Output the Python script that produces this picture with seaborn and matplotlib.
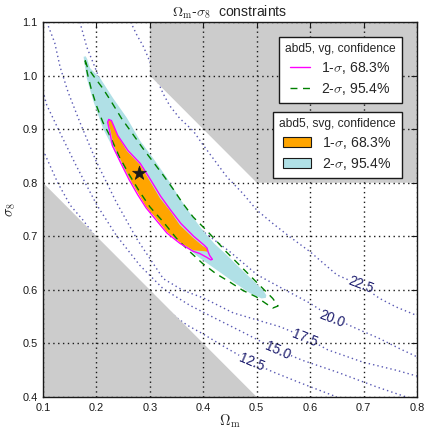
import numpy as np
import pandas as pd
import matplotlib
matplotlib.use("Agg")
import matplotlib.pyplot as plt
import seaborn as sns
from matplotlib.lines import Line2D
from matplotlib.patches import Patch

# ---------------- data ----------------
# dotted contour lines (Omega_m, sigma_8) for each level
lev_125_om = [0.100, 0.128, 0.151, 0.175, 0.225, 0.287, 0.353, 0.370, 0.399, 0.444, 0.490, 0.530, 0.580, 0.650]
lev_125_s8 = [0.861, 0.799, 0.758, 0.730, 0.664, 0.602, 0.546, 0.534, 0.518, 0.491, 0.465, 0.447, 0.427, 0.400]

lev_150_om = [0.100, 0.107, 0.131, 0.162, 0.201, 0.237, 0.281, 0.325, 0.375, 0.424, 0.474, 0.540, 0.587, 0.649, 0.724, 0.780]
lev_150_s8 = [0.971, 0.945, 0.895, 0.832, 0.758, 0.702, 0.646, 0.602, 0.571, 0.546, 0.521, 0.487, 0.468, 0.447, 0.419, 0.400]

lev_175_om = [0.107, 0.122, 0.132, 0.147, 0.169, 0.200, 0.237, 0.275, 0.325, 0.362, 0.400, 0.456, 0.544, 0.590, 0.633, 0.699, 0.761, 0.800]
lev_175_s8 = [1.100, 1.061, 1.016, 0.969, 0.913, 0.839, 0.764, 0.696, 0.621, 0.599, 0.585, 0.557, 0.531, 0.512, 0.488, 0.465, 0.450, 0.439]

lev_200_om = [0.169, 0.182, 0.197, 0.225, 0.262, 0.306, 0.350, 0.393, 0.450, 0.501, 0.549, 0.600, 0.640, 0.684, 0.730, 0.768, 0.800]
lev_200_s8 = [1.100, 1.053, 1.016, 0.944, 0.870, 0.814, 0.758, 0.714, 0.671, 0.628, 0.602, 0.575, 0.549, 0.529, 0.509, 0.490, 0.475]

lev_225_om = [0.264, 0.276, 0.287, 0.295, 0.310, 0.325, 0.337, 0.356, 0.381, 0.400, 0.418, 0.444, 0.474, 0.500, 0.530, 0.562, 0.600, 0.650, 0.696, 0.730, 0.761, 0.800]
lev_225_s8 = [1.100, 1.075, 1.056, 1.038, 1.000, 0.966, 0.944, 0.920, 0.897, 0.870, 0.846, 0.811, 0.780, 0.749, 0.724, 0.699, 0.671, 0.628, 0.608, 0.584, 0.568, 0.552]

label_text = ["12.5", "15.0", "17.5", "20.0", "22.5"]
label_om = [0.490, 0.540, 0.590, 0.640, 0.696]
label_s8 = [0.465, 0.487, 0.509, 0.546, 0.610]

# excluded (grey) regions
grey_hi_om = [0.3, 0.3, 0.5, 0.8, 0.8]
grey_hi_s8 = [1.1, 1.0, 0.8, 0.8, 1.1]
grey_lo_om = [0.1, 0.1, 0.5]
grey_lo_s8 = [0.4, 0.8, 0.4]

# svg 2-sigma region (filled)
svg2_om = [0.176, 0.180, 0.183, 0.188, 0.207, 0.231, 0.257, 0.282, 0.306, 0.332, 0.356, 0.378, 0.399, 0.421,
           0.444, 0.459, 0.482, 0.499, 0.512, 0.518, 0.517, 0.509, 0.487, 0.459, 0.431, 0.394, 0.356, 0.325,
           0.295, 0.276, 0.250, 0.231, 0.212, 0.194, 0.182, 0.177]
svg2_s8 = [1.035, 1.036, 1.030, 1.014, 0.995, 0.958, 0.921, 0.878, 0.846, 0.809, 0.771, 0.739, 0.711, 0.686,
           0.665, 0.650, 0.628, 0.612, 0.599, 0.590, 0.585, 0.584, 0.594, 0.613, 0.633, 0.659, 0.689, 0.721,
           0.752, 0.785, 0.827, 0.865, 0.902, 0.953, 0.995, 1.027]

# svg 1-sigma region (filled)
svg1_om = [0.223, 0.229, 0.239, 0.257, 0.282, 0.300, 0.319, 0.338, 0.356, 0.381, 0.399, 0.407, 0.408,
           0.403, 0.381, 0.356, 0.332, 0.312, 0.293, 0.278, 0.262, 0.247, 0.232, 0.227, 0.222]
svg1_s8 = [0.918, 0.915, 0.889, 0.859, 0.833, 0.803, 0.771, 0.747, 0.721, 0.697, 0.682, 0.677, 0.671,
           0.672, 0.674, 0.689, 0.708, 0.733, 0.755, 0.780, 0.808, 0.839, 0.870, 0.895, 0.913]

# vg 1-sigma contour (line)
vg1_om = [0.223, 0.228, 0.232, 0.240, 0.259, 0.282, 0.301, 0.320, 0.338, 0.358, 0.382, 0.401, 0.407, 0.409,
          0.412, 0.417, 0.414, 0.406, 0.393, 0.381, 0.356, 0.332, 0.312, 0.293, 0.277, 0.261, 0.245, 0.230,
          0.225, 0.221, 0.223]
vg1_s8 = [0.918, 0.916, 0.907, 0.888, 0.860, 0.836, 0.806, 0.775, 0.750, 0.724, 0.700, 0.684, 0.678, 0.671,
          0.664, 0.657, 0.656, 0.661, 0.668, 0.672, 0.687, 0.706, 0.730, 0.753, 0.778, 0.806, 0.838, 0.869,
          0.895, 0.913, 0.918]

# vg 2-sigma contour (line)
vg2_om = [0.179, 0.183, 0.194, 0.212, 0.228, 0.247, 0.265, 0.287, 0.306, 0.325, 0.343, 0.362, 0.381, 0.406,
          0.424, 0.443, 0.462, 0.481, 0.499, 0.515, 0.530, 0.540, 0.530, 0.518, 0.499, 0.474, 0.449, 0.424,
          0.399, 0.375, 0.350, 0.325, 0.300, 0.281, 0.262, 0.243, 0.228, 0.212, 0.200, 0.190, 0.184, 0.180, 0.179]
vg2_s8 = [1.028, 1.016, 1.000, 0.976, 0.951, 0.920, 0.895, 0.864, 0.839, 0.814, 0.789, 0.761, 0.736, 0.711,
          0.692, 0.671, 0.652, 0.633, 0.615, 0.599, 0.584, 0.570, 0.566, 0.574, 0.587, 0.599, 0.615, 0.630,
          0.649, 0.671, 0.696, 0.727, 0.755, 0.783, 0.814, 0.848, 0.882, 0.913, 0.944, 0.976, 1.000, 1.019, 1.028]

best_om = [0.279]
best_s8 = [0.819]

xticks = [0.1, 0.2, 0.3, 0.4, 0.5, 0.6, 0.7, 0.8]
yticks = [0.4, 0.5, 0.6, 0.7, 0.8, 0.9, 1.0, 1.1]

# ---------------- style ----------------
sns.set_theme(style="white")
plt.rcParams["font.family"] = ["Liberation Sans", "DejaVu Sans"]
plt.rcParams["mathtext.fontset"] = "cm"
plt.rcParams["axes.unicode_minus"] = False

PX = 0.72  # points per pixel at dpi 100

fig = plt.figure(figsize=(4.27, 4.33), dpi=100)
ax = fig.add_axes([43 / 427, 36 / 433, 374 / 427, 375 / 433])

# dotted contour lines
contours = [(lev_125_om, lev_125_s8), (lev_150_om, lev_150_s8), (lev_175_om, lev_175_s8),
            (lev_200_om, lev_200_s8), (lev_225_om, lev_225_s8)]
for om, s8 in contours:
    sns.lineplot(x=om, y=s8, sort=False, estimator=None, ax=ax, color="#3b3ba6",
                 linestyle=(0, (1, 2.2)), lw=1.0, alpha=0.85, zorder=1)

for t, xo, yo, r in zip(label_text, label_om, label_s8, [-23, -24, -22, -21, -21]):
    ax.text(xo, yo, t, color="#1c1c6e", fontsize=13.5 * PX, rotation=r, ha="center", va="center",
            rotation_mode="anchor", zorder=1.5,
            bbox=dict(facecolor="white", edgecolor="none", pad=0.5))

# excluded regions
ax.fill(grey_hi_om, grey_hi_s8, color="#cccccc", lw=0, zorder=2)
ax.fill(grey_lo_om, grey_lo_s8, color="#cccccc", lw=0, zorder=2)

# confidence regions
ax.fill(svg2_om, svg2_s8, color="#b0e0e6", lw=0, zorder=4)
ax.fill(svg1_om, svg1_s8, color="#ffa500", lw=0, zorder=4.2)
sns.lineplot(x=vg2_om, y=vg2_s8, sort=False, estimator=None, ax=ax, color="green",
             linestyle=(0, (5, 4)), lw=1.0, zorder=4.4)
sns.lineplot(x=vg1_om, y=vg1_s8, sort=False, estimator=None, ax=ax, color="magenta",
             lw=1.0, zorder=4.5)
sns.scatterplot(x=best_om, y=best_s8, ax=ax, marker="*", s=110, color="k", edgecolor="k",
                linewidth=0.5, zorder=6)

ax.set_xlim(0.1, 0.8)
ax.set_ylim(0.4, 1.1)
ax.set_xticks(xticks)
ax.set_yticks(yticks)
ax.set_xticklabels([f"{v:.1f}" for v in xticks])
ax.set_yticklabels([f"{v:.1f}" for v in yticks])
ax.set_axisbelow(False)
ax.grid(True, color="k", linestyle=(0, (1, 2.5)), lw=1.0, zorder=3)
ax.tick_params(direction="in", top=True, right=True, length=4, width=0.8, colors="k",
               labelsize=11 * PX, pad=4)
for sp in ax.spines.values():
    sp.set_color("k")
    sp.set_linewidth(1.0)
    sp.set_zorder(7)

ax.set_xlabel(r"$\Omega_{\rm m}$", fontsize=14.5 * PX, labelpad=0)
ax.set_ylabel(r"$\sigma_8$", fontsize=14.5 * PX, labelpad=3)
ax.set_title(r"$\Omega_{\rm m}$-$\sigma_8$  constraints", fontsize=14 * PX, pad=4)

# legends
h1 = [Line2D([], [], color="magenta", lw=1.0),
      Line2D([], [], color="green", lw=1.0, linestyle=(0, (5, 4)))]
leg1 = ax.legend(h1, [r"1-$\sigma$, 68.3%", r"2-$\sigma$, 95.4%"], title="abd5, vg, confidence",
                 loc="upper right", bbox_to_anchor=(0.960, 0.960), borderaxespad=0,
                 fontsize=14 * PX, title_fontsize=12 * PX, frameon=True, fancybox=False,
                 edgecolor="k", framealpha=1, handlelength=1.4, handletextpad=0.8,
                 labelspacing=0.35, borderpad=0.45)
leg1.get_frame().set_linewidth(1.0)
leg1.set_zorder(8)
ax.add_artist(leg1)

h2 = [Patch(facecolor="#ffa500", edgecolor="k", lw=0.8),
      Patch(facecolor="#b0e0e6", edgecolor="k", lw=0.8)]
leg2 = ax.legend(h2, [r"1-$\sigma$, 68.3%", r"2-$\sigma$, 95.4%"], title="abd5, svg, confidence",
                 loc="upper right", bbox_to_anchor=(0.960, 0.760), borderaxespad=0,
                 fontsize=14 * PX, title_fontsize=12 * PX, frameon=True, fancybox=False,
                 edgecolor="k", framealpha=1, handlelength=1.95, handletextpad=0.8,
                 labelspacing=0.35, borderpad=0.45)
leg2.get_frame().set_linewidth(1.0)
leg2.set_zorder(8)

fig.savefig("out.png", dpi=100)
